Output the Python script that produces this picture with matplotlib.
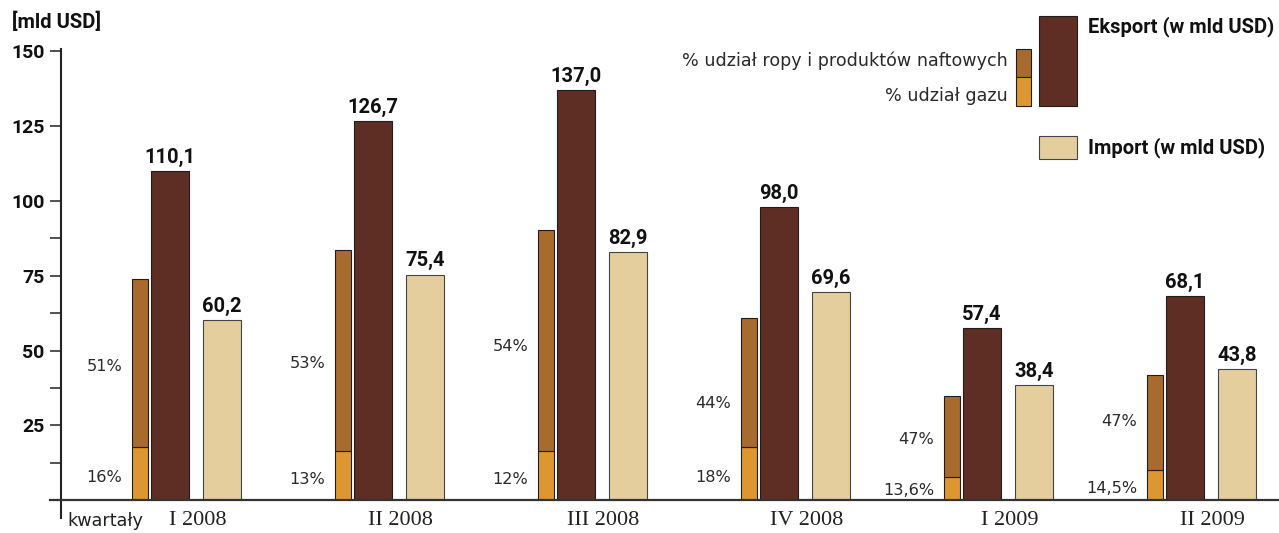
import matplotlib
matplotlib.use("Agg")
import matplotlib.pyplot as plt
import matplotlib.font_manager as fm
from matplotlib.patches import Rectangle
from matplotlib.lines import Line2D
import numpy as np

# ---------------- data ----------------
quarters = ["I 2008", "II 2008", "III 2008", "IV 2008", "I 2009", "II 2009"]
export_bn = [110.1, 126.7, 137.0, 98.0, 57.4, 68.1]
import_bn = [60.2, 75.4, 82.9, 69.6, 38.4, 43.8]
oil_share = [51, 53, 54, 44, 47, 47]
gas_share = [16, 13, 12, 18, 13.6, 14.5]
oil_labels = ["51%", "53%", "54%", "44%", "47%", "47%"]
gas_labels = ["16%", "13%", "12%", "18%", "13,6%", "14,5%"]
y_major = [25, 50, 75, 100, 125, 150]
y_minor = [12.5, 37.5, 62.5, 87.5]

# ---------------- layout / style ----------------
W, H = 1279, 533
EXPORT_C = "#5e2e25"
OIL_C = "#a96a2d"
GAS_C = "#dd9731"
IMPORT_C = "#e4ce9e"
EDGE_C = "#1e1e1e"
AX_C = "#222222"
TXT_C = "#2a2a2a"

oil_label_y = [44.5, 45.8, 51.2, 32.4, 20.1, 26.1]
gas_label_y = [7.4, 6.7, 6.7, 7.4, 3.3, 4.0]


def BOLD(size=14.5):
    return fm.FontProperties(family=["Roboto", "DejaVu Sans"], weight="bold", size=size)


SERIF = fm.FontProperties(family=["Liberation Serif", "DejaVu Serif"], size=16)

fig = plt.figure(figsize=(W / 100, H / 100), dpi=100)
scale = 2.99  # px per unit
ax_left, ax_bottom = 61, 500
ax = fig.add_axes([ax_left / W, (H - ax_bottom) / H, (W - ax_left) / W, 150 * scale / H])
ax.set_xlim((ax_left - 170) / 203, (W - 170) / 203)
ax.set_ylim(0, 150)
for s in ax.spines.values():
    s.set_visible(False)

x = np.arange(len(quarters))
exp = np.array(export_bn)
imp = np.array(import_bn)
gas_h = exp * np.array(gas_share) / 100
oil_h = exp * np.array(oil_share) / 100

oil_off, oil_w = -0.148, 0.079
exp_w = 0.187
imp_off = 0.256

ax.bar(x + oil_off, gas_h, width=oil_w, color=GAS_C, edgecolor=EDGE_C, linewidth=0.8)
ax.bar(x + oil_off, oil_h, bottom=gas_h, width=oil_w, color=OIL_C, edgecolor=EDGE_C, linewidth=0.8)
ax.bar(x, exp, width=exp_w, color=EXPORT_C, edgecolor=EDGE_C, linewidth=0.8)
ax.bar(x + imp_off, imp, width=exp_w, color=IMPORT_C, edgecolor="#444444", linewidth=0.8)

for i in range(len(x)):
    ax.annotate(f"{export_bn[i]:.1f}".replace(".", ","), (x[i], exp[i]), xytext=(0, 3),
                textcoords="offset points", ha="center", va="bottom", fontproperties=BOLD(), color="#111")
    ax.annotate(f"{import_bn[i]:.1f}".replace(".", ","), (x[i] + imp_off, imp[i]), xytext=(0, 3),
                textcoords="offset points", ha="center", va="bottom", fontproperties=BOLD(), color="#111")
    lx = x[i] + oil_off - oil_w / 2
    ax.annotate(oil_labels[i], (lx, oil_label_y[i]), xytext=(-7, 0), textcoords="offset points",
                ha="right", va="center", fontsize=11.6, color=TXT_C)
    ax.annotate(gas_labels[i], (lx, gas_label_y[i]), xytext=(-7, 0), textcoords="offset points",
                ha="right", va="center", fontsize=11.6, color=TXT_C)

# y ticks
ax.set_yticks(y_major)
ax.set_yticklabels([str(v) for v in y_major], fontproperties=BOLD(14))
ax.set_yticks(y_minor, minor=True)
ax.tick_params(axis="y", which="both", direction="out", length=8, width=1.1, color=AX_C, pad=4)
for t in ax.get_yticklabels():
    t.set_color("#111")

# x ticks
ax.set_xticks(x + 0.135)
ax.set_xticklabels(quarters, fontproperties=SERIF, color=AX_C)
ax.tick_params(axis="x", length=0, pad=8)


def fx(px):
    return px / W


def fy(py):
    return 1 - py / H


# axis lines
fig.add_artist(Line2D([fx(61), fx(61)], [fy(49), fy(518)], color=AX_C, lw=1.5))
fig.add_artist(Line2D([fx(50), fx(W)], [fy(500), fy(500)], color="#333333", lw=1.6))

fig.text(fx(105), fy(526), "kwartały", ha="center", va="baseline", fontsize=12.7, color=AX_C)
fig.text(fx(12), fy(22), "[mld USD]", ha="left", va="center", fontproperties=BOLD(14.5), color="#111")

# legend
fig.add_artist(Rectangle((fx(1039), fy(106)), fx(38), 90 / H, facecolor=EXPORT_C, edgecolor=EDGE_C,
                         lw=0.8, transform=fig.transFigure))
fig.add_artist(Rectangle((fx(1016), fy(77)), fx(15), 28 / H, facecolor=OIL_C, edgecolor=EDGE_C,
                         lw=0.8, transform=fig.transFigure))
fig.add_artist(Rectangle((fx(1016), fy(106)), fx(15), 29 / H, facecolor=GAS_C, edgecolor=EDGE_C,
                         lw=0.8, transform=fig.transFigure))
fig.add_artist(Rectangle((fx(1039), fy(159)), fx(38), 23 / H, facecolor=IMPORT_C, edgecolor="#444444",
                         lw=0.8, transform=fig.transFigure))
fig.text(fx(1088), fy(27), "Eksport (w mld USD)", ha="left", va="center", fontproperties=BOLD(), color="#111")
fig.text(fx(1088), fy(148), "Import (w mld USD)", ha="left", va="center", fontproperties=BOLD(), color="#111")
fig.text(fx(1008), fy(61), "% udział ropy i produktów naftowych", ha="right", va="center", fontsize=12.6, color=TXT_C)
fig.text(fx(1008), fy(96), "% udział gazu", ha="right", va="center", fontsize=12.6, color=TXT_C)

fig.savefig("out.png", dpi=100)
